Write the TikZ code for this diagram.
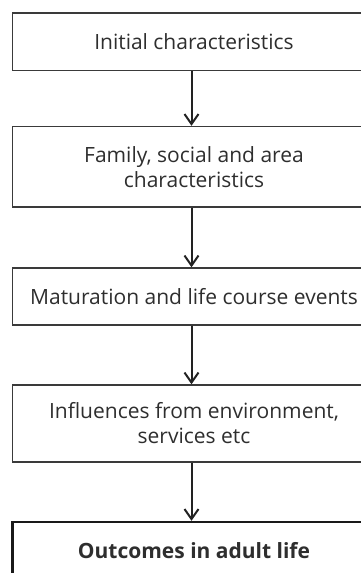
\documentclass[tikz,border=0pt]{standalone}
\usepackage{fontspec}
\setmainfont{Open Sans}
\usetikzlibrary{arrows.meta}
\definecolor{inkgray}{HTML}{3A3A3A}
\definecolor{arrowink}{HTML}{222222}
\definecolor{textgray}{HTML}{2E2E2E}
\tikzset{
  x=1pt, y=1pt,
  stage/.style={draw=inkgray, line width=1.4pt, minimum width=363pt,
    align=center, inner sep=0pt, text=textgray,
    font=\fontsize{21}{25}\selectfont},
  finalstage/.style={stage, draw=black!90, line width=2.4pt,
    font=\fontsize{21}{25}\selectfont\bfseries},
  flow/.style={draw=arrowink, line width=2pt,
    -{Straight Barb[length=10pt, width=14pt, line width=2pt]}}
}
\begin{document}
\begin{tikzpicture}
\useasboundingbox (0,0) rectangle (361,-573);
\clip (0,0) rectangle (361,-573);
\node[stage, minimum height=57.5pt] (s1) at (194,-41.75) {Initial characteristics};
\node[stage, minimum height=80.5pt] (s2) at (194,-166.75) {Family, social and area\\characteristics};
\node[stage, minimum height=57pt] (s3) at (194,-296.5) {Maturation and life course events};
\node[stage, minimum height=77pt] (s4) at (194,-423.5) {Influences from environment,\\services etc};
\node[finalstage, minimum height=57pt] (s5) at (194,-550.5) {Outcomes in adult life};
\foreach \a/\b in {s1/s2, s2/s3, s3/s4, s4/s5}
  \draw[flow] (\a.south -| 191.5,0) -- (\b.north -| 191.5,0);
\end{tikzpicture}
\end{document}
